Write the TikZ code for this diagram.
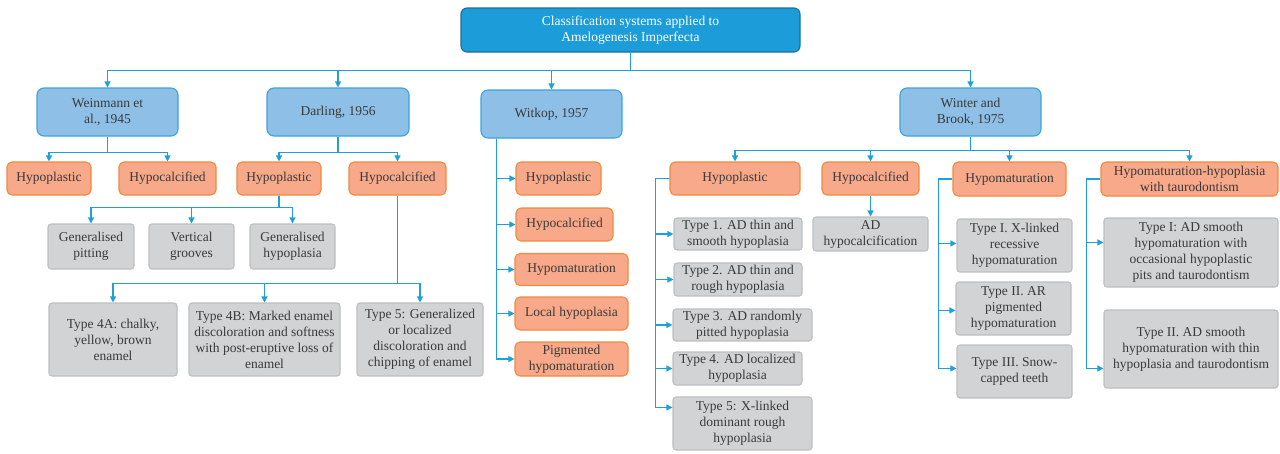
\documentclass[tikz,border=0pt]{standalone}
\usepackage{fontspec}
\setmainfont{Liberation Serif}
\usetikzlibrary{arrows.meta,calc}
\definecolor{conn}{HTML}{1EA0DB}
\definecolor{rootfill}{HTML}{1C9DD9}
\definecolor{rootdraw}{HTML}{1A6E9E}
\definecolor{bluefill}{HTML}{8EBFE6}
\definecolor{bluedraw}{HTML}{3CA4DD}
\definecolor{orfill}{HTML}{F7A98A}
\definecolor{ordraw}{HTML}{F08A3E}
\definecolor{grfill}{HTML}{D1D3D4}
\definecolor{grdraw}{HTML}{BDBFC1}
\definecolor{txt}{HTML}{3A3A3A}
\tikzset{
  box/.style={inner sep=0pt, align=center, text=txt, line width=1.1pt,
    font=\fontsize{13.5}{16}\selectfont},
  rootbox/.style={box, fill=rootfill, draw=rootdraw, rounded corners=6pt, text=white},
  bluebox/.style={box, fill=bluefill, draw=bluedraw, rounded corners=7pt},
  orbox/.style={box, fill=orfill, draw=ordraw, rounded corners=5pt},
  grbox/.style={box, fill=grfill, draw=grdraw, rounded corners=3pt},
  wh/.style 2 args={minimum width=#1pt, minimum height=#2pt},
  arr/.style={draw=conn, line width=1.2pt, -{Triangle[length=6pt,width=6pt]}},
}
\begin{document}
\begin{tikzpicture}[x=1pt,y=-1pt]
\useasboundingbox (0,0) rectangle (1280,453);
% root and level 1
\node[rootbox, wh={339}{44}] (root) at (630.5,30) {Classification systems applied to\\Amelogenesis Imperfecta};
\node[bluebox, wh={141}{48}] (wein) at (107.5,112) {Weinmann et\\al., 1945};
\node[bluebox, wh={142}{48}] (darl) at (338,112) {Darling, 1956};
\node[bluebox, wh={141}{48}] (witk) at (551.5,114) {Witkop, 1957};
\node[bluebox, wh={141}{48}] (wint) at (970.5,112) {Winter and\\Brook, 1975};
\foreach \n in {wein,darl,witk,wint}{\draw[arr] (root.south) -- ++(0,18) -| (\n.north);}
% Weinmann
\node[orbox, wh={84}{33}] (w1) at (49,178.5) {Hypoplastic};
\node[orbox, wh={97}{33}] (w2) at (167.5,178.5) {Hypocalcified};
\foreach \n in {w1,w2}{\draw[arr] (wein.south) -- ++(0,16) -| (\n.north);}
% Darling
\node[orbox, wh={84}{33}] (d1) at (279,178.5) {Hypoplastic};
\node[orbox, wh={97}{33}] (d2) at (397.5,178.5) {Hypocalcified};
\foreach \n in {d1,d2}{\draw[arr] (darl.south) -- ++(0,16) -| (\n.north);}
\node[grbox, wh={86}{45}] (g1) at (91,246.5) {Generalised\\pitting};
\node[grbox, wh={85}{45}] (g2) at (191.5,246.5) {Vertical\\grooves};
\node[grbox, wh={85}{45}] (g3) at (292.5,246.5) {Generalised\\hypoplasia};
\foreach \n in {g1,g2,g3}{\draw[arr] (d1.south) -- ++(0,12) -| (\n.north);}
\node[grbox, wh={128}{73}] (c1) at (113,339.5) {Type 4A: chalky,\\yellow, brown\\enamel};
\node[grbox, wh={151}{73}] (c2) at (264.5,339.5) {Type 4B: Marked enamel\\discoloration and softness\\with post-eruptive loss of\\enamel};
\node[grbox, wh={126}{73}] (c3) at (420,339.5) {Type 5: Generalized\\or localized\\discoloration and\\chipping of enamel};
\foreach \n in {c1,c2,c3}{\draw[arr] (d2.south) -- ++(0,88) -| (\n.north);}
% Witkop
\node[orbox, wh={85}{33}] (k1) at (558.5,178.5) {Hypoplastic};
\node[orbox, wh={97}{33}] (k2) at (564.5,224.5) {Hypocalcified};
\node[orbox, wh={113}{32}] (k3) at (571.5,269.5) {Hypomaturation};
\node[orbox, wh={113}{33}] (k4) at (571.5,313.5) {Local hypoplasia};
\node[orbox, wh={113}{34}] (k5) at (571.5,359) {Pigmented\\hypomaturation};
\foreach \n in {k1,k2,k3,k4,k5}{\draw[arr] ($(witk.south west)+(16,0)$) |- (\n.west);}
% Winter and Brook
\node[orbox, wh={130}{33}] (h1) at (735,178.5) {Hypoplastic};
\node[orbox, wh={97}{33}] (h2) at (870.5,178.5) {Hypocalcified};
\node[orbox, wh={113}{34}] (h3) at (1009.5,179) {Hypomaturation};
\node[orbox, wh={177}{34}] (h4) at (1189.5,179) {Hypomaturation-hypoplasia\\with taurodontism};
\foreach \n in {h1,h2,h3,h4}{\draw[arr] (wint.south) -- ++(0,14) -| (\n.north);}
% Winter Hypoplastic
\node[grbox, wh={128}{32}] (t1) at (738,234) {Type 1. AD thin and\\smooth hypoplasia};
\node[grbox, wh={128}{33}] (t2) at (738,279.5) {Type 2. AD thin and\\rough hypoplasia};
\node[grbox, wh={139}{32}] (t3) at (742.5,325) {Type 3. AD randomly\\pitted hypoplasia};
\node[grbox, wh={129}{33}] (t4) at (737.5,368.5) {Type 4. AD localized\\hypoplasia};
\node[grbox, wh={139}{53}] (t5) at (742.5,423.5) {Type 5: X-linked\\dominant rough\\hypoplasia};
\foreach \n in {t1,t2,t3,t4}{\draw[arr] (h1.west) -- ++(-14,0) |- (\n.west);}
\draw[arr] (h1.west) -- ++(-14,0) |- ($(t5.north west)+(0,11)$);
% Winter Hypocalcified
\node[grbox, wh={115}{34}] (adh) at (870.5,234) {AD\\hypocalcification};
\draw[arr] (h2.south) -- (adh.north);
% Winter Hypomaturation
\node[grbox, wh={115}{53}] (m1) at (1014.5,245.5) {Type I. X-linked\\recessive\\hypomaturation};
\node[grbox, wh={115}{53}] (m2) at (1013.5,308.5) {Type II. AR\\pigmented\\hypomaturation};
\node[grbox, wh={115}{53}] (m3) at (1014.5,371.5) {Type III. Snow-\\capped teeth};
\draw[arr] (h3.west) -- ++(-14,0) |- ($(m1.north west)+(0,25)$);
\draw[arr] (h3.west) -- ++(-14,0) |- ($(m2.north west)+(0,29)$);
\draw[arr] (h3.west) -- ++(-14,0) |- ($(m3.north west)+(0,24)$);
% Winter Hypomaturation-hypoplasia
\node[grbox, wh={174}{69}] (p1) at (1191,252.5) {Type I: AD smooth\\hypomaturation with\\occasional hypoplastic\\pits and taurodontism};
\node[grbox, wh={174}{78}] (p2) at (1191,349) {Type II. AD smooth\\hypomaturation with thin\\hypoplasia and taurodontism};
\draw[arr] (h4.west) -- ++(-14,0) |- ($(p1.north west)+(0,25)$);
\draw[arr] (h4.west) -- ++(-14,0) |- ($(p2.north west)+(0,59)$);
\end{tikzpicture}
\end{document}
